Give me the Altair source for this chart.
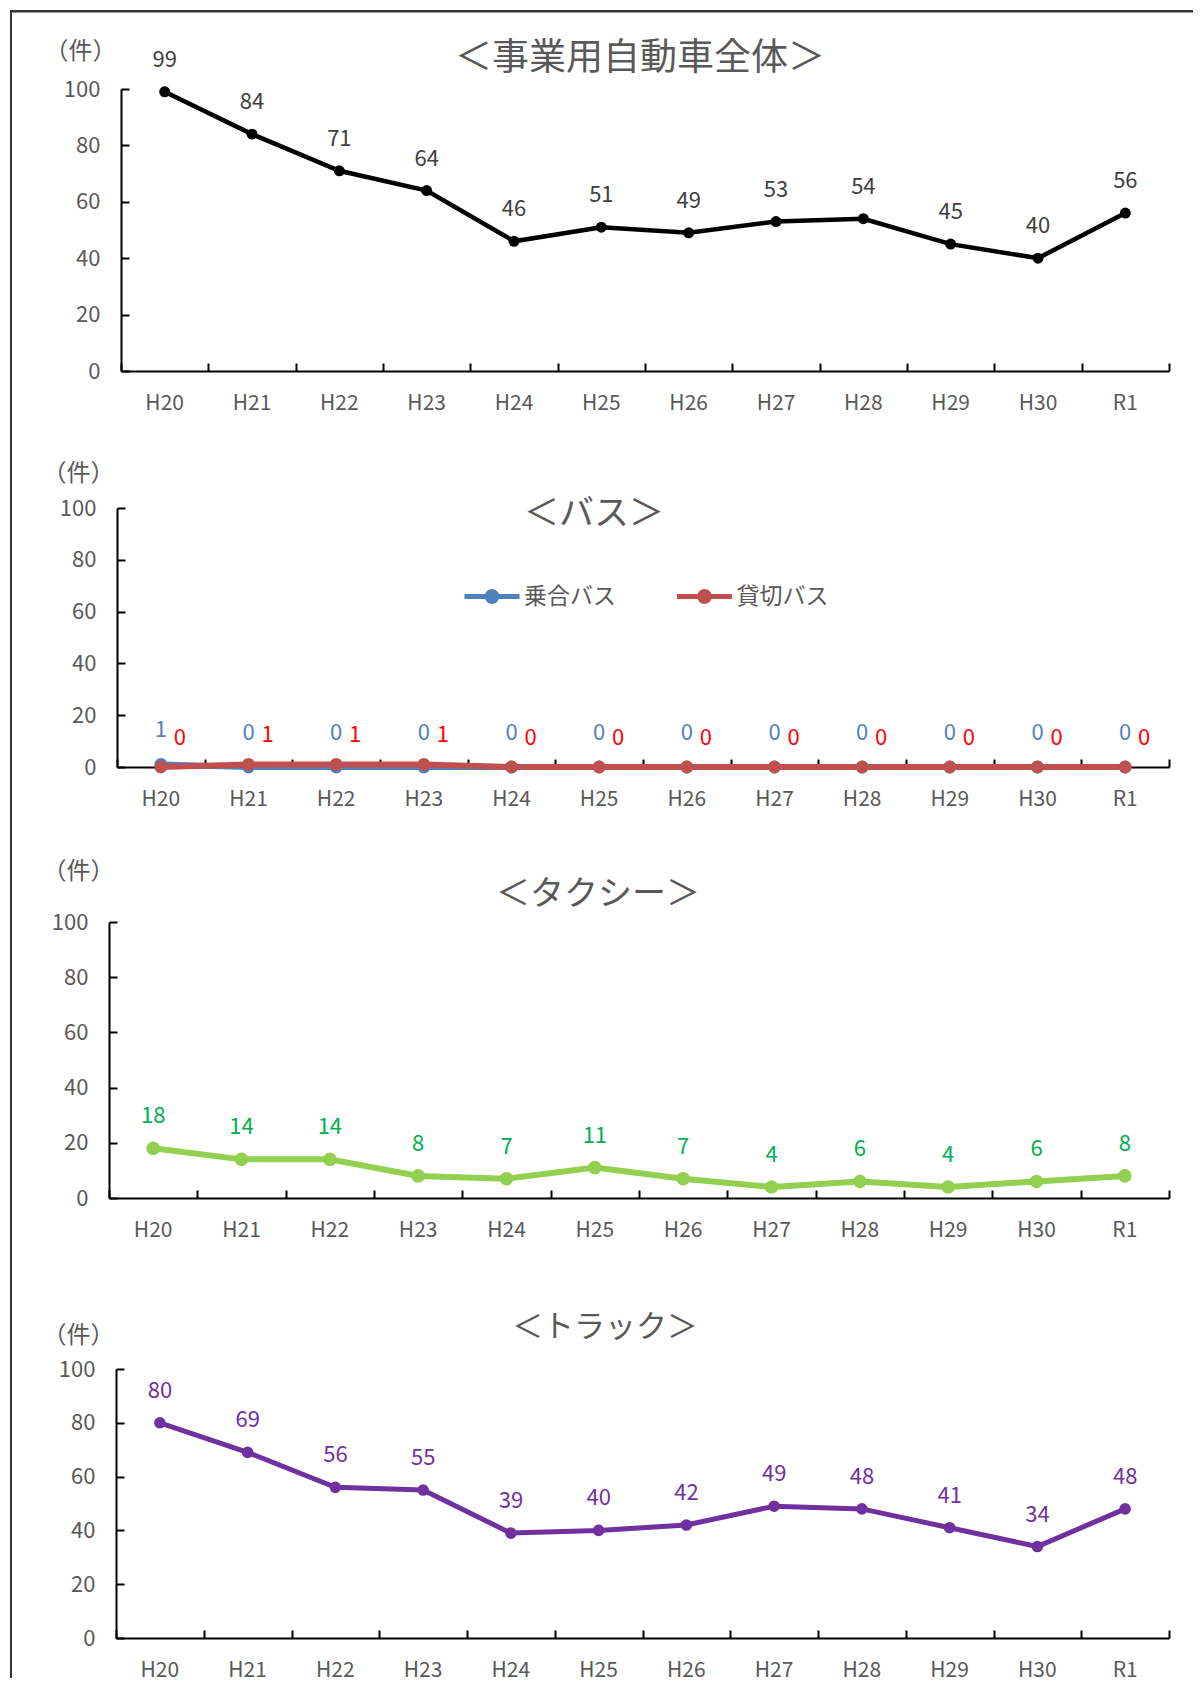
import altair as alt
import pandas as pd

# ---------------- data ----------------
years = ["H20", "H21", "H22", "H23", "H24", "H25", "H26", "H27", "H28", "H29", "H30", "R1"]
total_cases = [99, 84, 71, 64, 46, 51, 49, 53, 54, 45, 40, 56]
route_bus = [1, 0, 0, 0, 0, 0, 0, 0, 0, 0, 0, 0]
charter_bus = [0, 1, 1, 1, 0, 0, 0, 0, 0, 0, 0, 0]
taxi_cases = [18, 14, 14, 8, 7, 11, 7, 4, 6, 4, 6, 8]
truck_cases = [80, 69, 56, 55, 39, 40, 42, 49, 48, 41, 34, 48]
y_tick_values = [0, 20, 40, 60, 80, 100]
bus_series = ["乗合バス", "貸切バス"]
panel_titles = ["＜事業用自動車全体＞", "＜バス＞", "＜タクシー＞", "＜トラック＞"]
unit_label = "（件）"

FONT = "Noto Sans CJK JP"
GRAY = "#595959"
W = 1060


def scales(x0, top, H):
    xs = alt.Scale(domain=years, range=[x0, W], paddingInner=0, paddingOuter=0)
    ys = alt.Scale(domain=[0, 100], range=[H, top])
    return xs, ys


def main_axes(x0, ux, uy):
    xa = alt.Axis(title=None, domain=True, domainColor="black", domainWidth=2,
                  ticks=False, tickSize=0, labelFont=FONT, labelFontSize=21,
                  labelColor=GRAY, labelPadding=32, labelBaseline="middle",
                  labelAngle=0, grid=False, orient="bottom")
    ya = alt.Axis(title=unit_label, orient="left", offset=-x0, domain=True,
                  domainColor="black", domainWidth=2, ticks=False, tickSize=0,
                  values=y_tick_values, labelFont=FONT, labelFontSize=22,
                  labelColor=GRAY, labelPadding=21, labelAlign="right",
                  labelBaseline="middle", grid=False, titleAngle=0,
                  titleX=ux, titleY=uy, titleAlign="center",
                  titleBaseline="middle", titleFont=FONT, titleFontSize=24,
                  titleColor=GRAY, titleFontWeight="normal")
    return xa, ya


def tick_layer(df, xs, ys, x0):
    xa = alt.Axis(title=None, orient="bottom", offset=-8, domain=False,
                  labels=False, ticks=True, tickSize=8, tickWidth=2,
                  tickColor="black", tickBand="extent", grid=False)
    ya = alt.Axis(title=None, orient="left", offset=-(x0 + 8), domain=False,
                  labels=False, ticks=True, tickSize=8, tickWidth=2,
                  tickColor="black", values=y_tick_values, grid=False)
    return alt.Chart(df).mark_point(opacity=0).encode(
        x=alt.X("year:N", scale=xs, axis=xa),
        y=alt.Y("value:Q", scale=ys, axis=ya),
    )


def title_layer(text, cx, cy, size):
    return alt.Chart(pd.DataFrame({"t": [text]})).mark_text(
        font=FONT, fontSize=size, color=GRAY, align="center", baseline="middle"
    ).encode(text="t:N", x=alt.value(cx), y=alt.value(cy))


def single_panel(values, x0, top, H, ux, uy, line_color, label_color,
                 point_size, line_width, title, tcx, tcy, tsize, extra=None):
    df = pd.DataFrame({"year": years, "value": values})
    xs, ys = scales(x0, top, H)
    xa, ya = main_axes(x0, ux, uy)
    line = alt.Chart(df).mark_line(color=line_color, strokeWidth=line_width).encode(
        x=alt.X("year:N", scale=xs, axis=xa),
        y=alt.Y("value:Q", scale=ys, axis=ya),
    )
    pts = alt.Chart(df).mark_circle(color=line_color, size=point_size, opacity=1).encode(
        x=alt.X("year:N", scale=xs, axis=None),
        y=alt.Y("value:Q", scale=ys, axis=None),
    )
    txt = alt.Chart(df).mark_text(font=FONT, fontSize=22, color=label_color, dy=-32,
                                  baseline="middle").encode(
        x=alt.X("year:N", scale=xs, axis=None),
        y=alt.Y("value:Q", scale=ys, axis=None),
        text="value:Q",
    )
    layers = [line, pts, txt, tick_layer(df, xs, ys, x0), title_layer(title, tcx, tcy, tsize)]
    if extra is not None:
        layers = extra + layers
    return alt.layer(*layers).resolve_axis(x="independent", y="independent").properties(
        width=W, height=H)


# outer frame (top and left edges of the original picture)
frame_df = pd.DataFrame({"a": [0]})
frame_top = alt.Chart(frame_df).mark_rule(color="#333333", strokeWidth=2.5).encode(
    x=alt.value(-99), x2=alt.value(1084), y=alt.value(1.25))
frame_left = alt.Chart(frame_df).mark_rule(color="#333333", strokeWidth=2).encode(
    x=alt.value(-98), y=alt.value(0), y2=alt.value(1668))

p1 = single_panel(total_cases, 12, 79, 361, -41, 41, "#000000", "#404040",
                  120, 4.5, panel_titles[0], 531, 49, 37,
                  extra=[frame_top, frame_left])

# ---------------- bus panel ----------------
bus_df = pd.DataFrame({
    "year": years * 2,
    "value": route_bus + charter_bus,
    "series": [bus_series[0]] * len(years) + [bus_series[1]] * len(years),
})
x0b, topb, Hb = 8, 137, 396
xs_b, ys_b = scales(x0b, topb, Hb)
xa_b, ya_b = main_axes(x0b, -39, 102)
cscale = alt.Scale(domain=bus_series, range=["#4F81BD", "#C0504D"])
LEG_X, LEG_Y = 353, 556.5
LEG_SYMBOL = "M-1,0L1,0M0.18,0A0.18,0.18,0,1,1,-0.18,0A0.18,0.18,0,1,1,0.18,0Z"


def bus_legend():
    return alt.Legend(orient="none", legendX=LEG_X, legendY=LEG_Y,
                      direction="horizontal", title=None, symbolType=LEG_SYMBOL,
                      symbolSize=3025, symbolStrokeWidth=5, labelFont=FONT,
                      labelFontSize=23, labelColor=GRAY, labelOffset=2,
                      columnPadding=50.5, padding=0)


bus_layers = []
for i, name in enumerate(bus_series):
    base = alt.Chart(bus_df).transform_filter(alt.datum.series == name)
    bus_layers.append(base.mark_line(strokeWidth=6).encode(
        x=alt.X("year:N", scale=xs_b, axis=xa_b if i == 0 else None),
        y=alt.Y("value:Q", scale=ys_b, axis=ya_b if i == 0 else None),
        stroke=alt.Stroke("series:N", scale=cscale, legend=bus_legend()),
    ))
    bus_layers.append(base.mark_circle(size=165, opacity=1).encode(
        x=alt.X("year:N", scale=xs_b, axis=None),
        y=alt.Y("value:Q", scale=ys_b, axis=None),
        fill=alt.Fill("series:N", scale=cscale, legend=bus_legend()),
    ))
bus_text_colors = ["#4F81BD", "#FF0000"]
bus_text_dx = [0, 19]
bus_text_dy = [-34, -29]
for i, name in enumerate(bus_series):
    bus_layers.append(alt.Chart(bus_df).transform_filter(alt.datum.series == name).mark_text(
        font=FONT, fontSize=22, color=bus_text_colors[i], dx=bus_text_dx[i],
        dy=bus_text_dy[i], baseline="middle").encode(
        x=alt.X("year:N", scale=xs_b, axis=None),
        y=alt.Y("value:Q", scale=ys_b, axis=None),
        text="value:Q",
    ))
bus_layers.append(tick_layer(bus_df, xs_b, ys_b, x0b))
bus_layers.append(title_layer(panel_titles[1], 485, 143, 35))
p2 = alt.layer(*bus_layers).resolve_axis(x="independent", y="independent").properties(
    width=W, height=Hb)

p3 = single_panel(taxi_cases, 0, 155, 431, -31, 104, "#92D050", "#00B050",
                  185, 6, panel_titles[2], 489, 128, 34)
p4 = single_panel(truck_cases, 7, 171, 440, -38, 137, "#7030A0", "#7030A0",
                  135, 5, panel_titles[3], 496, 130, 31)

chart = alt.vconcat(p1, p2, p3, p4, spacing=0, bounds="flush").properties(
    padding=0
).configure(font=FONT).configure_view(stroke="transparent")

chart.save("out.html", embed_options={"renderer": "svg", "actions": False})
